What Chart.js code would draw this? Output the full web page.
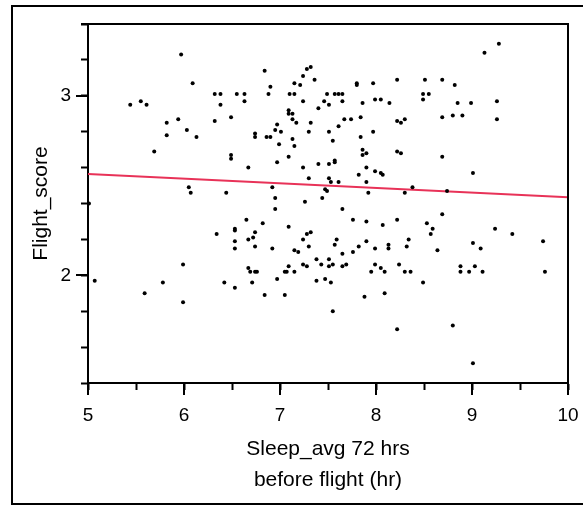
<!DOCTYPE html>
<html>
<head>
<meta charset="utf-8">
<script src="https://cdn.jsdelivr.net/npm/chart.js@4"></script>
<style>
  html, body { margin: 0; padding: 0; background: #fff; }
  canvas { display: block; }
</style>
</head>
<body>
<canvas id="grafico" width="583" height="506"></canvas>
<script>
// Datos
const sleepHrs = [
  5.44, 5.55, 5.61, 5.97, 6.09, 5.82, 5.82, 5.94, 6.03, 6.13, 5.69, 6.32, 6.38, 6.55, 6.63, 6.38, 6.63, 6.32, 6.49, 6.49,
  6.49, 6.67, 6.05, 6.07, 6.44, 6.84, 6.90, 6.88, 7.15, 7.24, 7.28, 7.32, 7.36, 7.21, 7.10, 7.15, 7.24, 7.49, 7.57, 7.61,
  7.65, 7.46, 7.51, 7.65, 7.40, 7.80, 7.80, 7.97, 8.22, 7.99, 8.05, 8.14, 7.86, 7.09, 7.09, 7.13, 7.13, 7.17, 6.97, 6.95,
  7.01, 6.74, 6.74, 6.86, 6.90, 6.99, 7.13, 7.15, 7.09, 7.32, 7.30, 7.51, 7.61, 7.55, 7.67, 7.74, 7.84, 7.84, 7.97, 7.86,
  7.86, 7.90, 8.22, 8.26, 8.30, 8.22, 8.26, 6.97, 7.24, 7.40, 7.51, 7.57, 7.57, 7.90, 7.82, 7.99, 8.05, 8.07, 7.30, 7.51,
  7.53, 7.61, 7.90, 7.47, 7.49, 7.92, 8.30, 6.92, 9.28, 9.13, 8.51, 8.69, 8.82, 8.49, 8.55, 8.49, 8.85, 8.99, 9.26, 8.69,
  8.80, 8.90, 9.26, 8.69, 9.01, 8.38, 8.74, 5.01, 5.07, 5.59, 5.78, 5.99, 5.99, 6.34, 6.42, 6.53, 6.53, 6.53, 6.53, 6.53,
  6.65, 6.67, 6.72, 6.74, 6.82, 6.74, 6.95, 6.95, 7.09, 6.92, 6.67, 6.69, 6.74, 6.76, 6.71, 6.84, 6.97, 7.05, 7.05, 7.07,
  7.09, 7.15, 7.19, 7.15, 7.26, 7.44, 7.24, 7.28, 7.32, 7.30, 7.24, 7.28, 7.38, 7.43, 7.51, 7.51, 7.55, 7.38, 7.47, 7.53,
  7.55, 7.59, 7.57, 7.65, 7.65, 7.65, 7.69, 7.76, 7.76, 7.82, 7.90, 7.90, 7.99, 7.95, 7.99, 8.05, 8.09, 7.88, 8.09, 8.07,
  8.13, 8.13, 8.22, 8.24, 8.30, 8.32, 8.34, 8.22, 8.69, 8.53, 8.59, 8.57, 8.64, 8.36, 8.49, 8.88, 8.88, 8.97, 9.03, 9.11,
  9.01, 9.09, 9.24, 9.42, 9.74, 9.76, 8.80, 9.01
];
const flightScore = [
  2.95, 2.97, 2.95, 3.23, 3.07, 2.85, 2.78, 2.87, 2.81, 2.77, 2.69, 3.01, 3.01, 3.01, 3.01, 2.95, 2.97, 2.86, 2.88, 2.67,
  2.65, 2.60, 2.49, 2.46, 2.46, 3.14, 3.05, 3.01, 3.07, 3.11, 3.15, 3.16, 3.09, 3.06, 3.01, 3.01, 2.97, 3.01, 3.01, 3.01,
  3.01, 2.97, 2.95, 2.97, 2.93, 3.07, 3.06, 3.07, 3.09, 2.98, 2.98, 2.96, 2.96, 2.92, 2.90, 2.90, 2.87, 2.85, 2.84, 2.81,
  2.80, 2.79, 2.77, 2.77, 2.77, 2.73, 2.76, 2.72, 2.66, 2.85, 2.80, 2.80, 2.83, 2.75, 2.87, 2.87, 2.88, 2.77, 2.80, 2.70,
  2.67, 2.68, 2.86, 2.85, 2.87, 2.69, 2.68, 2.63, 2.60, 2.62, 2.62, 2.64, 2.63, 2.60, 2.56, 2.58, 2.57, 2.56, 2.54, 2.54,
  2.52, 2.52, 2.52, 2.48, 2.47, 2.46, 2.46, 2.49, 3.29, 3.24, 3.09, 3.09, 3.06, 3.01, 3.01, 2.98, 2.96, 2.96, 2.97, 2.88,
  2.89, 2.89, 2.87, 2.66, 2.57, 2.49, 2.47, 2.40, 1.97, 1.90, 1.96, 2.06, 1.85, 2.23, 1.96, 1.93, 2.26, 2.25, 2.19, 2.15,
  2.31, 2.20, 2.21, 2.24, 2.29, 2.16, 2.43, 2.37, 2.27, 2.15, 2.04, 2.02, 2.02, 2.02, 1.96, 1.89, 1.98, 1.89, 2.02, 2.02,
  2.05, 2.14, 2.13, 2.02, 2.41, 2.43, 2.20, 2.23, 2.24, 2.16, 2.06, 2.05, 2.09, 2.06, 2.09, 2.05, 2.06, 1.97, 1.98, 1.96,
  1.80, 2.20, 2.17, 2.37, 2.12, 2.05, 2.06, 2.31, 2.13, 2.16, 2.30, 2.19, 2.15, 2.02, 2.06, 2.04, 2.02, 1.88, 1.90, 2.28,
  2.17, 2.15, 2.31, 2.06, 2.02, 2.16, 2.20, 1.70, 2.34, 2.29, 2.26, 2.23, 2.14, 2.02, 1.96, 2.05, 2.02, 2.02, 2.05, 2.02,
  2.18, 2.15, 2.26, 2.23, 2.19, 2.02, 1.72, 1.51
];
// Recta de ajuste
const fitX = [5, 10];
const fitY = [2.565, 2.435];
// Ejes
const xRange = [5, 10];
const yRange = [1.4, 3.4];

const puntos = sleepHrs.map((x, i) => ({ x: x, y: flightScore[i] }));
const recta = fitX.map((x, i) => ({ x: x, y: fitY[i] }));

const esEntero = v => Math.abs(v - Math.round(v)) < 1e-6;

// Marco exterior, borde superior/derecho y ticks mayores más largos
const marcoPlugin = {
  id: 'marco',
  afterDraw(chart) {
    const ctx = chart.ctx;
    const a = chart.chartArea;
    ctx.save();
    ctx.strokeStyle = '#000';
    ctx.lineWidth = 2;
    ctx.strokeRect(12, 6, 620, 498);
    ctx.beginPath();
    ctx.moveTo(a.left - 7, a.top);
    ctx.lineTo(a.right, a.top);
    ctx.lineTo(a.right, a.bottom);
    ctx.stroke();
    const xs = chart.scales.x, ys = chart.scales.y;
    ctx.beginPath();
    xs.ticks.forEach(t => {
      if (esEntero(t.value)) {
        const px = Math.round(xs.getPixelForValue(t.value));
        ctx.moveTo(px, a.bottom);
        ctx.lineTo(px, a.bottom + 12);
      }
    });
    ys.ticks.forEach(t => {
      if (esEntero(t.value)) {
        const py = Math.round(ys.getPixelForValue(t.value));
        ctx.moveTo(a.left, py);
        ctx.lineTo(a.left - 12, py);
      }
    });
    ctx.stroke();
    ctx.restore();
  }
};

new Chart(document.getElementById('grafico').getContext('2d'), {
  type: 'scatter',
  data: {
    datasets: [
      {
        label: 'Flight_score',
        data: puntos,
        pointRadius: 2,
        pointBorderWidth: 0,
        backgroundColor: '#000',
        borderColor: '#000'
      },
      {
        type: 'line',
        label: 'Ajuste',
        data: recta,
        showLine: true,
        borderColor: 'rgb(232, 50, 88)',
        borderWidth: 2,
        pointRadius: 0,
        fill: false
      }
    ]
  },
  options: {
    responsive: false,
    animation: false,
    layout: { padding: { top: 24, right: 15, left: 0, bottom: 0 } },
    plugins: {
      legend: { display: false },
      tooltip: { enabled: false }
    },
    scales: {
      x: {
        type: 'linear',
        min: xRange[0],
        max: xRange[1],
        afterFit: scale => {
          scale.height = 123;
          scale.paddingLeft = 0;
          scale.paddingRight = 0;
        },
        border: { display: true, color: '#000', width: 2 },
        grid: { drawOnChartArea: false, drawTicks: true, tickLength: 7, tickColor: '#000', tickWidth: 2 },
        ticks: {
          stepSize: 0.5,
          autoSkip: false,
          maxRotation: 0,
          padding: 14,
          color: '#000',
          font: { family: 'Liberation Sans, Arial, sans-serif', size: 19 },
          callback: v => esEntero(v) ? String(Math.round(v)) : ''
        },
        title: {
          display: true,
          text: ['Sleep_avg 72 hrs', 'before flight (hr)'],
          color: '#000',
          font: { family: 'Liberation Sans, Arial, sans-serif', size: 21, lineHeight: 1.48 },
          padding: { top: 0, bottom: 10 }
        }
      },
      y: {
        min: yRange[0],
        max: yRange[1],
        afterFit: scale => {
          scale.width = 88;
          scale.paddingTop = 0;
          scale.paddingBottom = 0;
        },
        border: { display: true, color: '#000', width: 2 },
        grid: { drawOnChartArea: false, drawTicks: true, tickLength: 7, tickColor: '#000', tickWidth: 2 },
        ticks: {
          stepSize: 0.2,
          autoSkip: false,
          padding: 10,
          color: '#000',
          font: { family: 'Liberation Sans, Arial, sans-serif', size: 19 },
          callback: v => esEntero(v) ? String(Math.round(v)) : ''
        },
        title: {
          display: true,
          text: 'Flight_score',
          color: '#000',
          font: { family: 'Liberation Sans, Arial, sans-serif', size: 21, lineHeight: 1.2 },
          padding: { top: 29, bottom: 0 }
        }
      }
    }
  },
  plugins: [marcoPlugin]
});
</script>
</body>
</html>
